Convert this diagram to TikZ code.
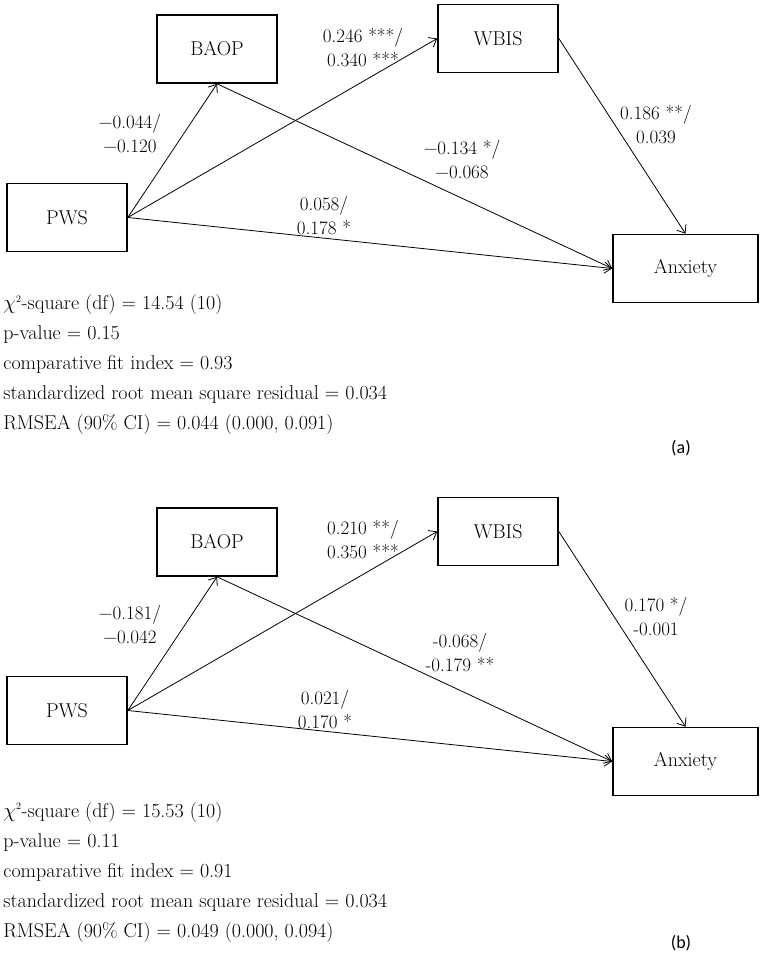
\documentclass[tikz,border=0pt]{standalone}
\usepackage{fontspec}
\newfontfamily\capfont{Carlito}
\usetikzlibrary{arrows.meta}

\tikzset{
  var/.style={draw, line width=1.6pt, minimum width=120pt, minimum height=68pt,
    inner sep=0pt, font=\fontsize{20}{22}\selectfont},
  coef/.style={align=center, inner sep=0pt, font=\fontsize{19}{24}\selectfont},
  fitstats/.style={align=left, anchor=west, inner sep=0pt, font=\fontsize{20}{30}\selectfont},
  panel/.style={inner sep=0pt, font=\capfont\fontsize{18}{20}\selectfont}
}

\begin{document}
\begin{tikzpicture}[x=1pt, y=-1pt, line width=0.8pt,
  >={Straight Barb[length=7pt,width=11pt]}]
\useasboundingbox (0,0) rectangle (762,957);

% model (a)
\node [var] (pwsA) at (67,217.5) {PWS};
\node [var] (baopA) at (217,49) {BAOP};
\node [var] (wbisA) at (498,38.5) {WBIS};
\node [var, minimum width=145pt] (anxA) at (685.5,268.5) {Anxiety};
\draw [->] (pwsA.east) -- (baopA.south);
\draw [->] (pwsA.east) -- (wbisA.west);
\draw [->] (pwsA.east) -- (anxA.west);
\draw [->] (baopA.south) -- (anxA.west);
\draw [->] (wbisA.east) -- (anxA.north);
\node [coef] (cA1) at (130,134) {−0.044/\\−0.120};
\node [coef] (cA2) at (363,47.5) {0.246 ***/\\0.340 ***};
\node [coef] (cA3) at (656,125) {0.186 **/\\0.039};
\node [coef] (cA4) at (462,160) {−0.134 */\\−0.068};
\node [coef] (cA5) at (324,216) {0.058/\\0.178 *};
\node [fitstats] (fitA) at (3,365) {$\chi^{\scriptscriptstyle 2}$-square (df) = 14.54 (10)\\
  p-value = 0.15\\
  comparative fit index = 0.93\\
  standardized root mean square residual = 0.034\\
  RMSEA (90\% CI) = 0.044 (0.000, 0.091)};
\node [panel] (labA) at (681,448) {(a)};

% model (b)
\begin{scope}[yshift=-493pt]
\node [var] (pwsB) at (67,217.5) {PWS};
\node [var] (baopB) at (217,49) {BAOP};
\node [var] (wbisB) at (498,38.5) {WBIS};
\node [var, minimum width=145pt] (anxB) at (685.5,268.5) {Anxiety};
\draw [->] (pwsB.east) -- (baopB.south);
\draw [->] (pwsB.east) -- (wbisB.west);
\draw [->] (pwsB.east) -- (anxB.west);
\draw [->] (baopB.south) -- (anxB.west);
\draw [->] (wbisB.east) -- (anxB.north);
\node [coef] (cB1) at (130,132) {−0.181/\\−0.042};
\node [coef] (cB2) at (363,47) {0.210 **/\\0.350 ***};
\node [coef] (cB3) at (656,124) {0.170 */\\-0.001};
\node [coef] (cB4) at (460,160) {-0.068/\\-0.179 **};
\node [coef] (cB5) at (325,217) {0.021/\\0.170 *};
\node [fitstats] (fitB) at (3,379) {$\chi^{\scriptscriptstyle 2}$-square (df) = 15.53 (10)\\
  p-value = 0.11\\
  comparative fit index = 0.91\\
  standardized root mean square residual = 0.034\\
  RMSEA (90\% CI) = 0.049 (0.000, 0.094)};
\node [panel] (labB) at (681,450) {(b)};
\end{scope}
\end{tikzpicture}
\end{document}
